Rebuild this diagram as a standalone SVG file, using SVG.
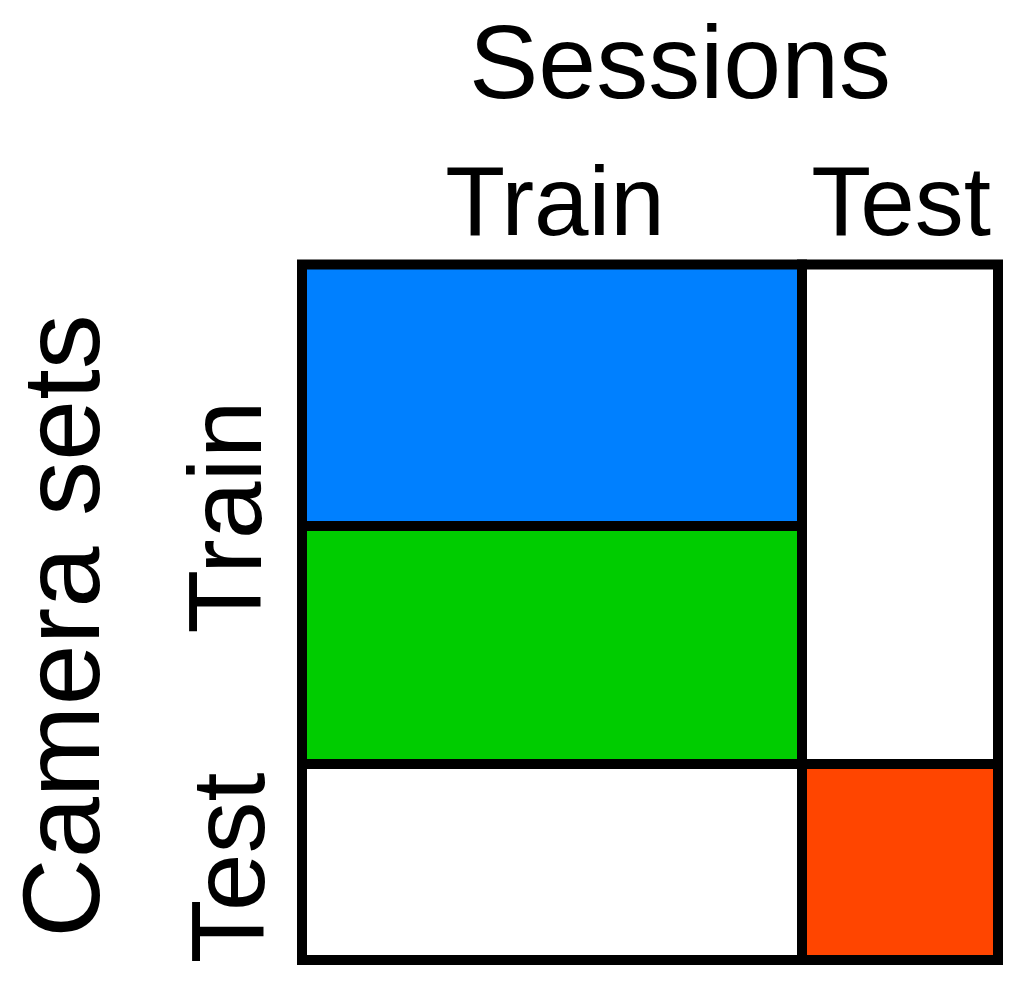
<svg xmlns="http://www.w3.org/2000/svg" width="1030" height="986" viewBox="0 0 1030 986">
<style>
text{font-family:"Liberation Sans",Arial,sans-serif;fill:#000;text-anchor:middle}
.lbl{font-size:104px}
.hdr{font-size:98px}
.cell{stroke:#000;stroke-width:10}
</style>
<rect width="1030" height="986" fill="#fff"/>
<g id="title-sessions"><text class="lbl" x="680" y="98">Sessions</text></g>
<g id="col-train"><text class="hdr" x="555" y="235">Train</text></g>
<g id="col-test"><text class="hdr" x="901" y="235">Test</text></g>
<g id="title-camera"><text class="lbl" transform="translate(99,626) rotate(-90)" style="font-size:110px">Camera sets</text></g>
<g id="row-train"><text class="lbl" transform="translate(261,517) rotate(-90)">Train</text></g>
<g id="row-test"><text class="lbl" transform="translate(264,868) rotate(-90)">Test</text></g>
<g id="cells">
<rect id="cell-blue" class="cell" x="302" y="264.5" width="500" height="261.5" fill="#0080FF"/>
<rect id="cell-green" class="cell" x="302" y="526" width="500" height="238" fill="#00CC00"/>
<rect id="cell-white-bl" class="cell" x="302" y="764" width="500" height="196" fill="#fff"/>
<rect id="cell-white-tr" class="cell" x="802" y="264.5" width="196" height="499.5" fill="#fff"/>
<rect id="cell-red" class="cell" x="802" y="764" width="196" height="196" fill="#FF4500"/>
</g>
</svg>
